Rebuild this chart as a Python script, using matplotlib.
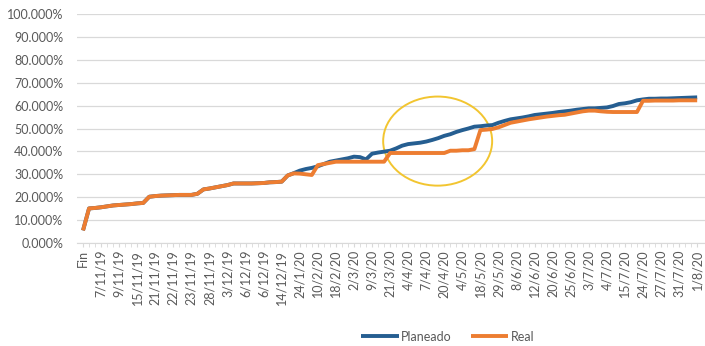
import matplotlib.pyplot as plt
from matplotlib.patches import Ellipse

# one label every 3 points
date_labels = ["Fin", "7/11/19", "9/11/19", "15/11/19", "21/11/19", "22/11/19", "23/11/19",
               "28/11/19", "3/12/19", "6/12/19", "6/12/19", "14/12/19", "24/1/20", "10/2/20",
               "18/2/20", "2/3/20", "9/3/20", "21/3/20", "4/4/20", "7/4/20", "20/4/20", "4/5/20",
               "18/5/20", "29/5/20", "8/6/20", "12/6/20", "20/6/20", "25/6/20", "3/7/20", "4/7/20",
               "15/7/20", "24/7/20", "27/7/20", "31/7/20", "1/8/20"]

real = [5.5, 15.1, 15.3, 15.6, 16.0, 16.4, 16.6, 16.8, 17.0, 17.3, 17.5, 20.2,
        20.5, 20.7, 20.8, 20.9, 21.0, 21.0, 21.0, 21.5, 23.4, 23.8, 24.3, 24.8,
        25.3, 26.0, 26.0, 26.0, 26.0, 26.1, 26.2, 26.5, 26.6, 26.8, 29.5, 30.4,
        30.3, 30.0, 29.7, 34.0, 34.5, 35.0, 35.5, 35.5, 35.5, 35.5, 35.5, 35.5,
        35.5, 35.5, 35.5, 39.3, 39.3, 39.3, 39.3, 39.3, 39.3, 39.3, 39.3, 39.3,
        39.3, 40.3, 40.3, 40.5, 40.5, 41.0, 49.3, 49.5, 49.8, 50.5, 51.5, 52.5,
        53.0, 53.5, 54.0, 54.4, 54.8, 55.2, 55.5, 55.8, 56.0, 56.5, 57.0, 57.5,
        57.8, 57.8, 57.5, 57.3, 57.2, 57.2, 57.2, 57.2, 57.2, 62.1, 62.1, 62.2,
        62.2, 62.2, 62.2, 62.3, 62.3, 62.3, 62.3]

# planned matches real until late January
planeado = real[:35] + [
        30.5, 31.6, 32.3, 32.8, 33.5, 34.5, 35.5, 36.0, 36.5, 37.0, 37.7, 37.5,
        36.5, 39.0, 39.5, 39.9, 40.3, 41.3, 42.5, 43.2, 43.5, 43.8, 44.3, 45.0,
        45.8, 46.8, 47.5, 48.5, 49.3, 50.0, 50.8, 51.0, 51.3, 51.5, 52.5, 53.3,
        54.0, 54.4, 54.8, 55.3, 55.9, 56.2, 56.5, 56.8, 57.2, 57.5, 57.8, 58.2,
        58.5, 58.8, 58.8, 59.0, 59.2, 59.8, 60.7, 61.0, 61.5, 62.3, 62.7, 63.0,
        63.0, 63.1, 63.1, 63.2, 63.3, 63.4, 63.5, 63.6]

plt.rcParams['font.family'] = ['Lato', 'DejaVu Sans']
gray = "#595959"

fig = plt.figure(figsize=(7.05, 3.46), dpi=100)
ax = fig.add_axes([77/705, 1 - 243/346, 628/705, 229/346])

x = list(range(len(real)))
ax.plot(x, planeado, color="#255e91", lw=2.8, label="Planeado", solid_capstyle="butt")
ax.plot(x, real, color="#ed7d31", lw=2.8, label="Real", solid_capstyle="butt")

ax.add_patch(Ellipse((58.9, 44.5), 18.1, 38.9, fill=False, edgecolor="#f2c530", lw=1.4))

ax.set_xlim(-1, len(real) + 0.3)
ax.set_ylim(0, 100)
ax.set_yticks(range(0, 101, 10))
ax.set_yticklabels([f"{v:.3f}%" for v in range(0, 101, 10)])
ax.set_xticks(range(0, len(real), 3))
ax.set_xticklabels(date_labels, rotation=90)
ax.set_xticks(x, minor=True)

ax.grid(axis="y", color="#d9d9d9", lw=0.9)
ax.set_axisbelow(True)
for s in ["top", "right", "left"]:
    ax.spines[s].set_visible(False)
ax.spines["bottom"].set_color("#d9d9d9")
ax.tick_params(axis="y", length=0, pad=10, labelsize=9, labelcolor=gray)
ax.tick_params(axis="x", which="both", length=3, color="#d9d9d9", labelsize=9,
               labelcolor=gray, pad=2)

fig.legend(loc="center", bbox_to_anchor=(0.635, 0.027), ncol=2, frameon=False,
           fontsize=9, handlelength=3, handletextpad=0.2, columnspacing=1.5,
           labelcolor=gray)

fig.savefig("out.png", dpi=100)
